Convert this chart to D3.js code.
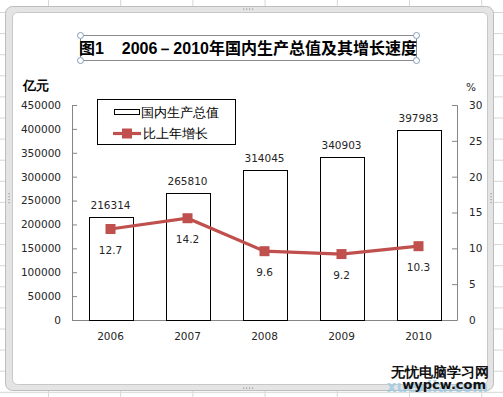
<!DOCTYPE html>
<html>
<head>
<meta charset="utf-8">
<script src="https://cdn.jsdelivr.net/npm/d3@7"></script>
<style>
  body { margin: 0; background: #fff; }
  svg { display: block; }
  text { font-family: "DejaVu Sans", sans-serif; }
</style>
</head>
<body>
<svg width="503" height="397"></svg>
<script>
var years = ["2006", "2007", "2008", "2009", "2010"];
var gdp = [216314, 265810, 314045, 340903, 397983];
var growth = [12.7, 14.2, 9.6, 9.2, 10.3];
var leftTicks = [0, 50000, 100000, 150000, 200000, 250000, 300000, 350000, 400000, 450000];
var rightTicks = [0, 5, 10, 15, 20, 25, 30];

var svg = d3.select("svg");
var red = "#c0504d";
var cjk = "'Noto Sans CJK SC', sans-serif";
var narrow = "'Liberation Sans Narrow', 'Liberation Sans', sans-serif";

// spreadsheet grid behind the chart
var grid = svg.append("g").attr("stroke", "#d6d6d6").attr("stroke-width", 1);
for (var gx = 48.5; gx < 503; gx += 72.2) {
    grid.append("line").attr("x1", gx).attr("x2", gx).attr("y1", 0).attr("y2", 397);
}
for (var gy = 12.5; gy < 397; gy += 21.1) {
    grid.append("line").attr("x1", 0).attr("x2", 503).attr("y1", gy).attr("y2", gy);
}

// chart frame
svg.append("rect").attr("x", 5.5).attr("y", 6.5).attr("width", 488).attr("height", 384)
    .attr("rx", 7).attr("fill", "#e4e4e4").attr("stroke", "#bdbdbd");
svg.append("rect").attr("x", 12.5).attr("y", 12.5).attr("width", 475).attr("height", 372)
    .attr("rx", 5).attr("fill", "#fff").attr("stroke", "#c8c8c8");

// little resize dots
var dots = [[248, 9, 1], [248, 388, 1], [9, 198, 0], [491, 198, 0]];
dots.forEach(function(d) {
    for (var i = -1.5; i <= 1.5; i++) {
        svg.append("rect")
            .attr("x", d[2] ? d[0] + i * 3 - 0.5 : d[0] - 0.5)
            .attr("y", d[2] ? d[1] - 0.5 : d[1] + i * 3 - 0.5)
            .attr("width", 1.2).attr("height", 1.2).attr("fill", "#999");
    }
});

var plotLeft = 72, plotRight = 457, plotTop = 105, plotBottom = 320;

var x = d3.scaleBand().domain(years).range([plotLeft, plotRight]).paddingInner(0.435).paddingOuter(0.2175);
var y = d3.scaleLinear().domain([0, 450000]).range([plotBottom, plotTop]);
var y2 = d3.scaleLinear().domain([0, 30]).range([plotBottom, plotTop]);

// axes
var yAxis = svg.append("g").attr("transform", "translate(" + plotLeft + ",0)")
    .call(d3.axisLeft(y).tickValues(leftTicks).tickSize(-5).tickPadding(11).tickFormat(d3.format("d")));
var y2Axis = svg.append("g").attr("transform", "translate(" + plotRight + ",0)")
    .call(d3.axisRight(y2).tickValues(rightTicks).tickSize(-5).tickPadding(12));
var xAxis = svg.append("g").attr("transform", "translate(0," + plotBottom + ")")
    .call(d3.axisBottom(x).tickSize(0).tickPadding(13));

[yAxis, y2Axis, xAxis].forEach(function(a) {
    a.select(".domain").attr("stroke", "#868686");
    a.selectAll(".tick line").attr("stroke", "#868686");
    a.selectAll("text").attr("font-size", "10.5px").attr("fill", "#262626")
        .attr("font-family", "'DejaVu Sans', sans-serif");
});
xAxis.select(".domain").attr("d", "M" + plotLeft + ",0.5H" + plotRight);

// bars
svg.selectAll(".bar").data(years).enter().append("rect")
    .attr("class", "bar")
    .attr("x", d => Math.round(x(d)) + 0.5)
    .attr("y", (d, i) => Math.round(y(gdp[i])) + 0.5)
    .attr("width", Math.round(x.bandwidth()))
    .attr("height", (d, i) => Math.round(plotBottom - y(gdp[i])))
    .attr("fill", "#fff").attr("stroke", "#000").attr("stroke-width", 1);

svg.selectAll(".barlab").data(years).enter().append("text")
    .attr("x", d => x(d) + x.bandwidth() / 2)
    .attr("y", (d, i) => y(gdp[i]) - 8)
    .attr("text-anchor", "middle").attr("font-size", "10.5px").attr("fill", "#262626")
    .text((d, i) => gdp[i]);

// growth line
var cx = d => x(d) + x.bandwidth() / 2;
var line = d3.line().x(d => cx(d)).y((d, i) => y2(growth[i]));
svg.append("path").datum(years).attr("d", line)
    .attr("fill", "none").attr("stroke", red).attr("stroke-width", 3.2);

svg.selectAll(".pt").data(years).enter().append("rect")
    .attr("x", d => cx(d) - 5).attr("y", (d, i) => y2(growth[i]) - 5)
    .attr("width", 10).attr("height", 10).attr("fill", red);

svg.selectAll(".ptlab").data(years).enter().append("text")
    .attr("x", d => cx(d))
    .attr("y", (d, i) => y2(growth[i]) + 25)
    .attr("text-anchor", "middle").attr("font-size", "10.5px").attr("fill", "#262626")
    .text((d, i) => growth[i].toFixed(1));

// title box
svg.append("rect").attr("x", 80.5).attr("y", 35.5).attr("width", 336).attr("height", 25)
    .attr("fill", "#fff").attr("stroke", "#8a8a8a");
var title = svg.append("text").attr("x", 248).attr("y", 54).attr("text-anchor", "middle")
    .style("white-space", "pre")
    .attr("font-family", cjk).attr("font-weight", "bold").attr("font-size", "16px").attr("fill", "#000");
[["图", cjk], ["1    2006", narrow], ["－", narrow], ["2010", narrow],
 ["年国内生产总值及其增长速度", cjk]].forEach(function(p) {
    title.append("tspan").attr("font-family", p[1]).text(p[0]);
});
[[80.5, 35.5], [416.5, 35.5], [80.5, 60.5], [416.5, 60.5]].forEach(function(p) {
    svg.append("circle").attr("cx", p[0]).attr("cy", p[1]).attr("r", 3)
        .attr("fill", "#fff").attr("stroke", "#7f9bbf").attr("stroke-width", 1);
});

// axis units
svg.append("text").attr("x", 23).attr("y", 90).attr("font-family", cjk)
    .attr("font-weight", "bold").attr("font-size", "13px").attr("fill", "#000").text("亿元");
svg.append("text").attr("x", 466).attr("y", 91).attr("font-size", "10.5px")
    .attr("fill", "#262626").text("%");

// legend
var lg = svg.append("g");
lg.append("rect").attr("x", 97.5).attr("y", 99.5).attr("width", 138).attr("height", 45)
    .attr("fill", "#fff").attr("stroke", "#000");
lg.append("rect").attr("x", 114.5).attr("y", 109.5).attr("width", 25).attr("height", 5)
    .attr("fill", "#fff").attr("stroke", "#000");
lg.append("text").attr("x", 141).attr("y", 116.5).attr("font-family", cjk)
    .attr("font-size", "13px").attr("fill", "#000").text("国内生产总值");
lg.append("line").attr("x1", 113).attr("x2", 141).attr("y1", 133.5).attr("y2", 133.5)
    .attr("stroke", red).attr("stroke-width", 3.2);
lg.append("rect").attr("x", 122).attr("y", 128.5).attr("width", 10).attr("height", 10).attr("fill", red);
lg.append("text").attr("x", 143).attr("y", 138).attr("font-family", cjk)
    .attr("font-size", "13px").attr("fill", "#000").text("比上年增长");

// watermark
svg.append("text").attr("x", 488).attr("y", 392).attr("text-anchor", "end")
    .attr("font-size", "15px").attr("font-weight", "bold").attr("fill", "#9ccbe6").attr("opacity", 0.8)
    .text("xuexila.com");
svg.append("text").attr("x", 489).attr("y", 377).attr("text-anchor", "end")
    .attr("font-family", cjk).attr("font-weight", "bold").attr("font-size", "14px").attr("fill", "#111")
    .text("无忧电脑学习网");
svg.append("text").attr("x", 486).attr("y", 389).attr("text-anchor", "end")
    .attr("font-weight", "bold").attr("font-size", "13px").attr("fill", "#111")
    .text("wypcw.com");
</script>
</body>
</html>
